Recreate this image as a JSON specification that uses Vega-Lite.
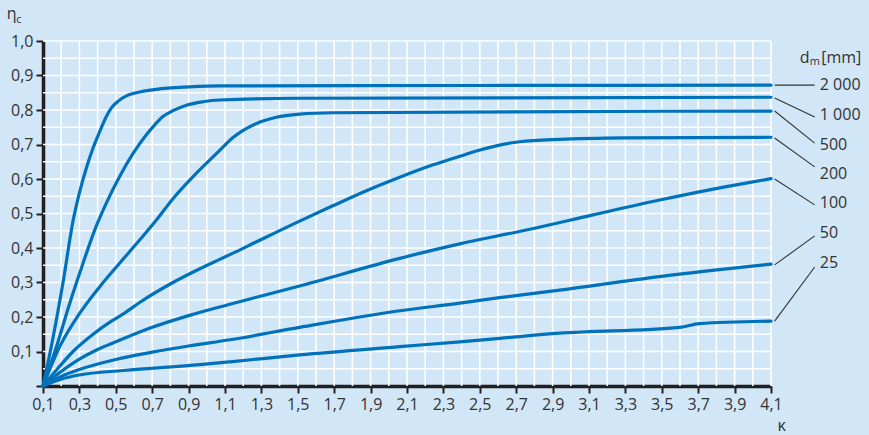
{
  "$schema": "https://vega.github.io/schema/vega-lite/v6.json",
  "autosize": "none",
  "width": 728,
  "height": 345,
  "padding": {"left": 43, "top": 41, "right": 98, "bottom": 49},
  "background": "#d1e6f6",
  "config": {
    "view": {"stroke": null},
    "font": "Open Sans"
  },
  "datasets": {
    "gridx": [
      {"gx": 0.2}, {"gx": 0.3}, {"gx": 0.4}, {"gx": 0.5}, {"gx": 0.6}, {"gx": 0.7}, {"gx": 0.8}, {"gx": 0.9}, {"gx": 1.0},
      {"gx": 1.1}, {"gx": 1.2}, {"gx": 1.3}, {"gx": 1.4}, {"gx": 1.5}, {"gx": 1.6}, {"gx": 1.7}, {"gx": 1.8}, {"gx": 1.9}, {"gx": 2.0},
      {"gx": 2.1}, {"gx": 2.2}, {"gx": 2.3}, {"gx": 2.4}, {"gx": 2.5}, {"gx": 2.6}, {"gx": 2.7}, {"gx": 2.8}, {"gx": 2.9}, {"gx": 3.0},
      {"gx": 3.1}, {"gx": 3.2}, {"gx": 3.3}, {"gx": 3.4}, {"gx": 3.5}, {"gx": 3.6}, {"gx": 3.7}, {"gx": 3.8}, {"gx": 3.9}, {"gx": 4.0},
      {"gx": 4.1}
    ],
    "gridy": [
      {"gy": 0.05}, {"gy": 0.1}, {"gy": 0.15}, {"gy": 0.2}, {"gy": 0.25}, {"gy": 0.3}, {"gy": 0.35}, {"gy": 0.4}, {"gy": 0.45}, {"gy": 0.5},
      {"gy": 0.55}, {"gy": 0.6}, {"gy": 0.65}, {"gy": 0.7}, {"gy": 0.75}, {"gy": 0.8}, {"gy": 0.85}, {"gy": 0.9}, {"gy": 0.95}, {"gy": 1.0}
    ],
    "curves": [
      {"d": "2000", "x": 0.1, "y": 0}, {"d": "2000", "x": 0.155, "y": 0.14}, {"d": "2000", "x": 0.21, "y": 0.3},
      {"d": "2000", "x": 0.266, "y": 0.481}, {"d": "2000", "x": 0.3, "y": 0.56}, {"d": "2000", "x": 0.34, "y": 0.635},
      {"d": "2000", "x": 0.375, "y": 0.69}, {"d": "2000", "x": 0.412, "y": 0.738}, {"d": "2000", "x": 0.448, "y": 0.781},
      {"d": "2000", "x": 0.476, "y": 0.806}, {"d": "2000", "x": 0.512, "y": 0.825}, {"d": "2000", "x": 0.558, "y": 0.841},
      {"d": "2000", "x": 0.613, "y": 0.85}, {"d": "2000", "x": 0.723, "y": 0.86}, {"d": "2000", "x": 0.906, "y": 0.867},
      {"d": "2000", "x": 1.071, "y": 0.87}, {"d": "2000", "x": 2.5, "y": 0.871}, {"d": "2000", "x": 4.1, "y": 0.872},

      {"d": "1000", "x": 0.1, "y": 0}, {"d": "1000", "x": 0.174, "y": 0.114}, {"d": "1000", "x": 0.247, "y": 0.24},
      {"d": "1000", "x": 0.32, "y": 0.356}, {"d": "1000", "x": 0.384, "y": 0.452}, {"d": "1000", "x": 0.448, "y": 0.53},
      {"d": "1000", "x": 0.521, "y": 0.607}, {"d": "1000", "x": 0.595, "y": 0.674}, {"d": "1000", "x": 0.668, "y": 0.728},
      {"d": "1000", "x": 0.714, "y": 0.757}, {"d": "1000", "x": 0.759, "y": 0.781}, {"d": "1000", "x": 0.814, "y": 0.798},
      {"d": "1000", "x": 0.888, "y": 0.814}, {"d": "1000", "x": 0.979, "y": 0.824}, {"d": "1000", "x": 1.071, "y": 0.829},
      {"d": "1000", "x": 1.5, "y": 0.834}, {"d": "1000", "x": 4.1, "y": 0.837},

      {"d": "500", "x": 0.1, "y": 0}, {"d": "500", "x": 0.192, "y": 0.114}, {"d": "500", "x": 0.302, "y": 0.211},
      {"d": "500", "x": 0.412, "y": 0.288}, {"d": "500", "x": 0.521, "y": 0.356}, {"d": "500", "x": 0.631, "y": 0.423},
      {"d": "500", "x": 0.723, "y": 0.481}, {"d": "500", "x": 0.814, "y": 0.543}, {"d": "500", "x": 0.943, "y": 0.617},
      {"d": "500", "x": 1.071, "y": 0.683}, {"d": "500", "x": 1.144, "y": 0.72}, {"d": "500", "x": 1.2, "y": 0.741},
      {"d": "500", "x": 1.273, "y": 0.761}, {"d": "500", "x": 1.382, "y": 0.779}, {"d": "500", "x": 1.51, "y": 0.788},
      {"d": "500", "x": 1.69, "y": 0.792}, {"d": "500", "x": 4.1, "y": 0.797},

      {"d": "200", "x": 0.1, "y": 0}, {"d": "200", "x": 0.18, "y": 0.05}, {"d": "200", "x": 0.265, "y": 0.1},
      {"d": "200", "x": 0.37, "y": 0.148}, {"d": "200", "x": 0.476, "y": 0.188}, {"d": "200", "x": 0.55, "y": 0.212},
      {"d": "200", "x": 0.631, "y": 0.242}, {"d": "200", "x": 0.814, "y": 0.3}, {"d": "200", "x": 0.962, "y": 0.34},
      {"d": "200", "x": 1.071, "y": 0.367}, {"d": "200", "x": 1.144, "y": 0.385}, {"d": "200", "x": 1.273, "y": 0.418},
      {"d": "200", "x": 1.51, "y": 0.478}, {"d": "200", "x": 1.695, "y": 0.523}, {"d": "200", "x": 1.877, "y": 0.566},
      {"d": "200", "x": 2.06, "y": 0.605}, {"d": "200", "x": 2.243, "y": 0.641}, {"d": "200", "x": 2.39, "y": 0.666},
      {"d": "200", "x": 2.48, "y": 0.681}, {"d": "200", "x": 2.573, "y": 0.694}, {"d": "200", "x": 2.719, "y": 0.708},
      {"d": "200", "x": 2.939, "y": 0.715}, {"d": "200", "x": 3.305, "y": 0.719}, {"d": "200", "x": 4.1, "y": 0.721},

      {"d": "100", "x": 0.1, "y": 0}, {"d": "100", "x": 0.2, "y": 0.042}, {"d": "100", "x": 0.3, "y": 0.078},
      {"d": "100", "x": 0.4, "y": 0.106}, {"d": "100", "x": 0.5, "y": 0.128}, {"d": "100", "x": 0.7, "y": 0.17},
      {"d": "100", "x": 0.9, "y": 0.204}, {"d": "100", "x": 1.127, "y": 0.237}, {"d": "100", "x": 1.51, "y": 0.29},
      {"d": "100", "x": 2.06, "y": 0.37}, {"d": "100", "x": 2.39, "y": 0.412}, {"d": "100", "x": 2.756, "y": 0.452},
      {"d": "100", "x": 3.122, "y": 0.496}, {"d": "100", "x": 3.488, "y": 0.539}, {"d": "100", "x": 3.855, "y": 0.578},
      {"d": "100", "x": 4.1, "y": 0.601},

      {"d": "50", "x": 0.1, "y": 0}, {"d": "50", "x": 0.2, "y": 0.028}, {"d": "50", "x": 0.3, "y": 0.048},
      {"d": "50", "x": 0.5, "y": 0.077}, {"d": "50", "x": 0.7, "y": 0.098}, {"d": "50", "x": 0.9, "y": 0.116},
      {"d": "50", "x": 1.127, "y": 0.134}, {"d": "50", "x": 1.51, "y": 0.17}, {"d": "50", "x": 2.06, "y": 0.218},
      {"d": "50", "x": 2.39, "y": 0.24}, {"d": "50", "x": 2.609, "y": 0.256}, {"d": "50", "x": 2.939, "y": 0.278},
      {"d": "50", "x": 3.488, "y": 0.317}, {"d": "50", "x": 4.1, "y": 0.353},

      {"d": "25", "x": 0.1, "y": 0}, {"d": "25", "x": 0.2, "y": 0.02}, {"d": "25", "x": 0.3, "y": 0.032},
      {"d": "25", "x": 0.54, "y": 0.045}, {"d": "25", "x": 0.962, "y": 0.062}, {"d": "25", "x": 1.127, "y": 0.07},
      {"d": "25", "x": 1.51, "y": 0.09}, {"d": "25", "x": 2.06, "y": 0.114}, {"d": "25", "x": 2.39, "y": 0.128},
      {"d": "25", "x": 2.609, "y": 0.138}, {"d": "25", "x": 2.939, "y": 0.153}, {"d": "25", "x": 3.598, "y": 0.17},
      {"d": "25", "x": 3.708, "y": 0.181}, {"d": "25", "x": 4.1, "y": 0.188}
    ],
    "leaders": [
      {"d": "2000", "x1": 4.12, "y1": 0.872, "x2": 4.34, "y2": 0.872, "tx": 4.368, "ty": 0.872, "label": "2 000"},
      {"d": "1000", "x1": 4.12, "y1": 0.835, "x2": 4.34, "y2": 0.78, "tx": 4.368, "ty": 0.786, "label": "1 000"},
      {"d": "500", "x1": 4.12, "y1": 0.797, "x2": 4.34, "y2": 0.704, "tx": 4.368, "ty": 0.699, "label": "500"},
      {"d": "200", "x1": 4.12, "y1": 0.719, "x2": 4.34, "y2": 0.635, "tx": 4.368, "ty": 0.614, "label": "200"},
      {"d": "100", "x1": 4.12, "y1": 0.6, "x2": 4.34, "y2": 0.525, "tx": 4.368, "ty": 0.53, "label": "100"},
      {"d": "50", "x1": 4.12, "y1": 0.351, "x2": 4.34, "y2": 0.435, "tx": 4.368, "ty": 0.443, "label": "50"},
      {"d": "25", "x1": 4.12, "y1": 0.188, "x2": 4.34, "y2": 0.345, "tx": 4.368, "ty": 0.357, "label": "25"}
    ],
    "titles": [
      {"x": -0.0995, "y": 1.064, "t": "η"},
      {"x": 4.258, "y": 0.936, "t": "d"},
      {"x": 4.376, "y": 0.936, "t": "[mm]"},
      {"x": 4.136, "y": -0.13, "t": "κ"}
    ],
    "subs": [
      {"x": -0.047, "y": 1.052, "t": "c"},
      {"x": 4.313, "y": 0.929, "t": "m"}
    ]
  },
  "layer": [
    {
      "data": {"name": "gridx"},
      "mark": {"type": "rule", "color": "#ffffff", "strokeWidth": 1.6},
      "encoding": {
        "x": {"field": "gx", "type": "quantitative"}
      }
    },
    {
      "data": {"name": "gridy"},
      "mark": {"type": "rule", "color": "#ffffff", "strokeWidth": 1.6},
      "encoding": {
        "y": {"field": "gy", "type": "quantitative"}
      }
    },
    {
      "data": {"name": "curves"},
      "mark": {"type": "line", "color": "#0072bb", "strokeWidth": 3.2, "interpolate": "monotone", "strokeCap": "round"},
      "encoding": {
        "x": {
          "field": "x", "type": "quantitative",
          "scale": {"domain": [0.1, 4.1], "nice": false, "zero": false},
          "axis": {
            "title": null,
            "values": [0.1,0.2,0.3,0.4,0.5,0.6,0.7,0.8,0.9,1.0,1.1,1.2,1.3,1.4,1.5,1.6,1.7,1.8,1.9,2.0,2.1,2.2,2.3,2.4,2.5,2.6,2.7,2.8,2.9,3.0,3.1,3.2,3.3,3.4,3.5,3.6,3.7,3.8,3.9,4.0,4.1],
            "tickCount": 200,
            "grid": false,
            "domainColor": "#231f20", "domainWidth": 3.5,
            "tickColor": {"condition": {"test": "round(datum.value*10)%2==1", "value": "#231f20"}, "value": "transparent"},
            "tickWidth": 2, "tickSize": 7,
            "labelExpr": "round(datum.value*10)%2==1 ? replace(format(datum.value,'.1f'),'.',',') : ''",
            "labelFont": "Open Sans", "labelFontSize": 16, "labelColor": "#333333", "labelPadding": 3,
            "labelOverlap": false, "labelFlush": false
          }
        },
        "y": {
          "field": "y", "type": "quantitative",
          "scale": {"domain": [0, 1], "nice": false},
          "axis": {
            "title": null,
            "values": [0,0.05,0.1,0.15,0.2,0.25,0.3,0.35,0.4,0.45,0.5,0.55,0.6,0.65,0.7,0.75,0.8,0.85,0.9,0.95,1.0],
            "tickCount": 200,
            "grid": false,
            "domainColor": "#231f20", "domainWidth": 3.5,
            "tickColor": {"condition": {"test": "round(datum.value*100)%10==0", "value": "#231f20"}, "value": "transparent"},
            "tickWidth": 2, "tickSize": 7,
            "labelExpr": "round(datum.value*100)%10==0 && datum.value>0 ? replace(format(datum.value,'.1f'),'.',',') : ''",
            "labelFont": "Open Sans", "labelFontSize": 16, "labelColor": "#333333", "labelPadding": 3,
            "labelOverlap": false, "labelFlush": false
          }
        },
        "detail": {"field": "d", "type": "nominal"}
      }
    },
    {
      "data": {"name": "leaders"},
      "mark": {"type": "rule", "color": "#333333", "strokeWidth": 1.1},
      "encoding": {
        "x": {"field": "x1", "type": "quantitative"},
        "y": {"field": "y1", "type": "quantitative"},
        "x2": {"field": "x2"},
        "y2": {"field": "y2"}
      }
    },
    {
      "data": {"name": "leaders"},
      "mark": {"type": "text", "align": "left", "baseline": "middle", "font": "Open Sans", "fontSize": 16, "color": "#333333"},
      "encoding": {
        "x": {"field": "tx", "type": "quantitative"},
        "y": {"field": "ty", "type": "quantitative"},
        "text": {"field": "label"}
      }
    },
    {
      "data": {"name": "titles"},
      "mark": {"type": "text", "align": "left", "baseline": "alphabetic", "font": "Open Sans", "fontSize": 16, "color": "#333333"},
      "encoding": {
        "x": {"field": "x", "type": "quantitative"},
        "y": {"field": "y", "type": "quantitative"},
        "text": {"field": "t"}
      }
    },
    {
      "data": {"name": "subs"},
      "mark": {"type": "text", "align": "left", "baseline": "alphabetic", "font": "Open Sans", "fontSize": 11, "color": "#333333"},
      "encoding": {
        "x": {"field": "x", "type": "quantitative"},
        "y": {"field": "y", "type": "quantitative"},
        "text": {"field": "t"}
      }
    }
  ]
}
